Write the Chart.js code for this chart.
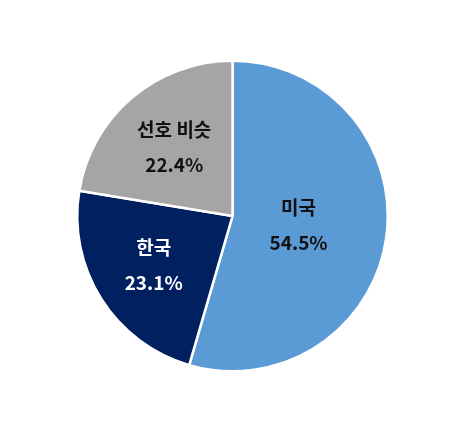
<!DOCTYPE html>
<html>
<head>
<meta charset="utf-8">
<script src="https://cdn.jsdelivr.net/npm/chart.js@4"></script>
<style>
  html, body { margin: 0; padding: 0; background: #fff; }
  #wrap { width: 454px; height: 430px; }
</style>
</head>
<body>
<div id="wrap"><canvas id="pieChart"></canvas></div>
<script>
// chart data
const categories = ['미국', '한국', '선호 비슷'];
const shares = [54.5, 23.1, 22.4];
const sliceColors = ['#5B9BD5', '#002060', '#A5A5A5'];
const labelColors = ['#111111', '#ffffff', '#111111'];

// how far from the centre each label sits (fraction of radius)
const labelRadius = [0.43, 0.6, 0.58];

// draw category + percent inside each slice
const sliceLabels = {
    id: 'sliceLabels',
    afterDatasetsDraw(chart) {
        const ctx = chart.ctx;
        const arcs = chart.getDatasetMeta(0).data;
        ctx.save();
        ctx.textAlign = 'center';
        ctx.textBaseline = 'middle';
        ctx.font = 'bold 19px "Noto Sans CJK KR", "Noto Sans", sans-serif';
        arcs.forEach((arc, i) => {
            const p = arc.getProps(['x', 'y', 'startAngle', 'endAngle', 'outerRadius'], true);
            const mid = (p.startAngle + p.endAngle) / 2;
            const r = p.outerRadius * labelRadius[i];
            const x = p.x + Math.cos(mid) * r;
            const y = p.y + Math.sin(mid) * r;
            ctx.fillStyle = labelColors[i];
            ctx.fillText(categories[i], x, y - 18);
            ctx.fillText(shares[i].toFixed(1) + '%', x, y + 17);
        });
        ctx.restore();
    }
};

const ctx = document.getElementById('pieChart');

new Chart(ctx, {
    type: 'pie',
    data: {
        labels: categories,
        datasets: [{
            data: shares,
            backgroundColor: sliceColors,
            borderColor: '#ffffff',
            borderWidth: 2.5
        }]
    },
    options: {
        responsive: true,
        maintainAspectRatio: false,
        animation: false,
        layout: {
            padding: { top: 59, bottom: 57, left: 76, right: 65 }
        },
        plugins: {
            legend: { display: false },
            tooltip: { enabled: false }
        }
    },
    plugins: [sliceLabels]
});
</script>
</body>
</html>
